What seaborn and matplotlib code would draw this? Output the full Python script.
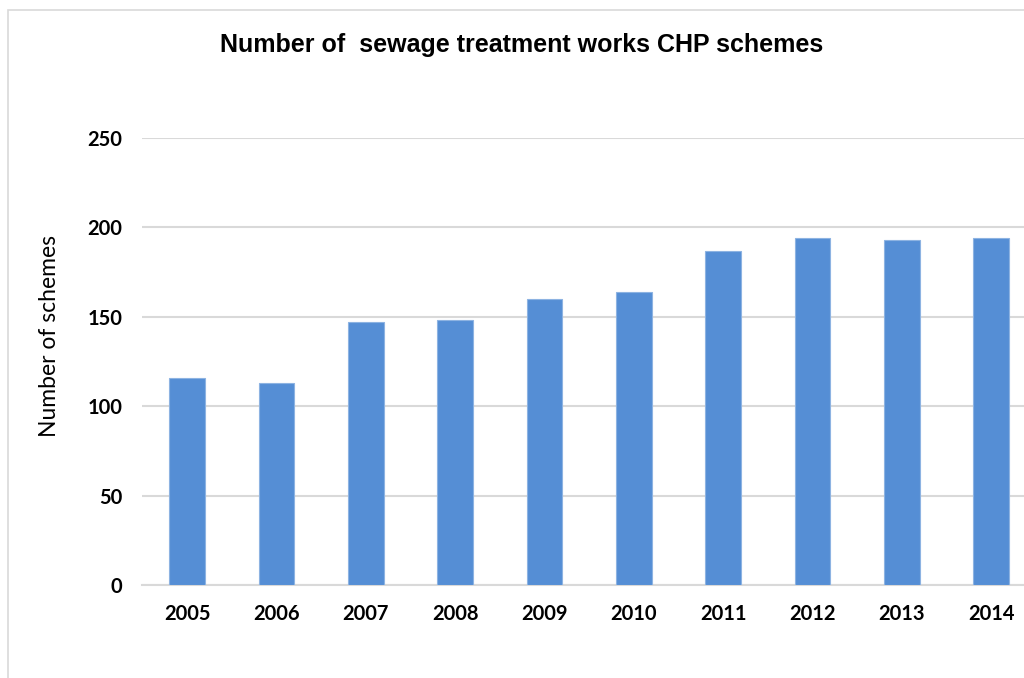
import matplotlib
matplotlib.use("Agg")
import matplotlib.pyplot as plt
from matplotlib.patches import Rectangle
import seaborn as sns
import pandas as pd

years = ["2005", "2006", "2007", "2008", "2009", "2010", "2011", "2012", "2013", "2014"]
schemes = [116, 113, 147, 148, 160, 164, 187, 194, 193, 194]
y_ticks = [0, 50, 100, 150, 200, 250]

df = pd.DataFrame({"year": years, "schemes": schemes})

sns.set_theme(style="white")
plt.rcParams["font.family"] = ["Lato", "DejaVu Sans"]

W, H = 1024, 678
fig = plt.figure(figsize=(W / 100, H / 100), dpi=100)

# outer chart frame (runs off the right and bottom edges)
fig.patches.append(Rectangle((8 / W, -0.1), 1.2, 1 - 10 / H + 0.1,
                             transform=fig.transFigure, fill=False,
                             edgecolor="#D9D9D9", linewidth=1.2))

ax = fig.add_axes([142.4 / W, 1 - 585 / H, 893.3 / W, 447 / H])
sns.barplot(data=df, x="year", y="schemes", ax=ax, color="#558ED5",
            saturation=1, width=0.40, edgecolor="#8DB3E2", linewidth=0.8,
            zorder=3)

ax.set_ylim(0, 250)
ax.set_xlim(-0.5, len(years) - 0.5)
ax.set_yticks(y_ticks)
ax.yaxis.grid(True, color="#D9D9D9", linewidth=1.5, zorder=0)
ax.set_axisbelow(True)
for s in ["top", "right", "left"]:
    ax.spines[s].set_visible(False)
ax.spines["bottom"].set_color("#D9D9D9")
ax.spines["bottom"].set_linewidth(1.5)
ax.tick_params(axis="both", length=0, labelsize=14.5)
ax.tick_params(axis="x", pad=14)
ax.tick_params(axis="y", pad=14.5)
for lbl in ax.get_xticklabels() + ax.get_yticklabels():
    lbl.set_fontweight("bold")
    lbl.set_color("black")

ax.set_xlabel("")
ax.set_ylabel("Number of schemes", fontsize=16.5, color="black", labelpad=20)
ax.yaxis.label.set_y(0.557)

fig.text(522 / W, 1 - 45 / H, "Number of  sewage treatment works CHP schemes",
         ha="center", va="center", fontsize=18, fontweight="bold",
         family=["Liberation Sans", "DejaVu Sans"], color="black")

fig.savefig("out.png", dpi=100)
